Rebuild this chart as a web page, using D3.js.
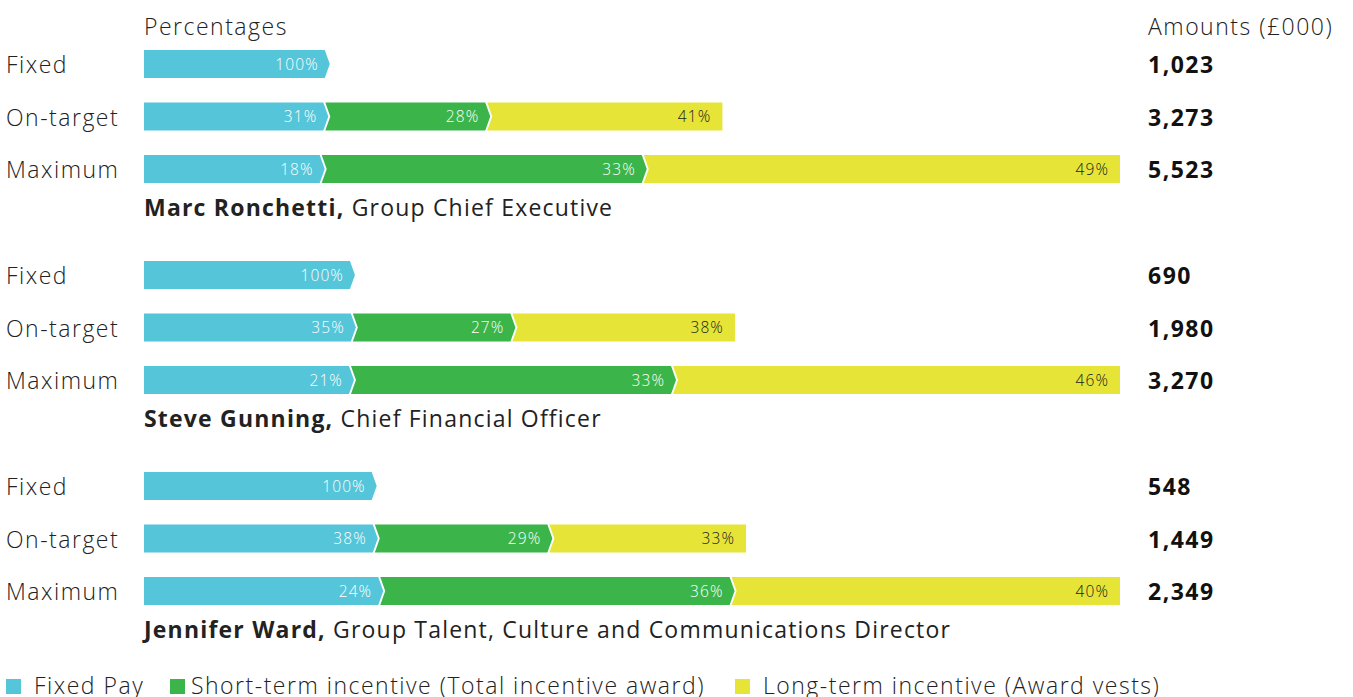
<!DOCTYPE html>
<html>
<head>
<meta charset="utf-8">
<script src="https://cdn.jsdelivr.net/npm/d3@7"></script>
<style>
  body { margin: 0; background: #fff; }
  text { font-family: "Open Sans", Lato, sans-serif; }
</style>
</head>
<body>
<svg id="chart" width="1353" height="697"></svg>
<script>
'use strict';

// data
let executives = ['Marc Ronchetti,', 'Steve Gunning,', 'Jennifer Ward,'];
let roles = ['Group Chief Executive', 'Chief Financial Officer', 'Group Talent, Culture and Communications Director'];
let scenarios = ['Fixed', 'On-target', 'Maximum'];
let amounts = [
  [1023, 3273, 5523],
  [690, 1980, 3270],
  [548, 1449, 2349]
];
let shares = [
  [[100], [31, 28, 41], [18, 33, 49]],
  [[100], [35, 27, 38], [21, 33, 46]],
  [[100], [38, 29, 33], [24, 36, 40]]
];
let seriesNames = ['Fixed Pay', 'Short-term incentive (Total incentive award)', 'Long-term incentive (Award vests)'];
let colors = ['#55c5d9', '#3bb54a', '#e6e537'];
let labelColors = ['#ffffff', '#ffffff', '#222222'];

let svg = d3.select('#chart');
let barH = 28, tip = 5, gap = 2;
let fmt = d3.format(',');

function light(sel){
  return sel.attr('font-size', 23).attr('font-weight', 300).attr('letter-spacing', 1.5).attr('fill', '#222');
}

light(svg.append('text').attr('x', 144).attr('y', 35)).text('Percentages');
light(svg.append('text').attr('x', 1148).attr('y', 35)).text('Amounts (£000)');

executives.forEach(function(name, g){
  let top = 50 + g * 211;
  let x = d3.scaleLinear().domain([0, d3.max(amounts[g])]).range([144, 1120]);
  let y = d3.scaleBand().domain(scenarios).range([top, top + 52.5 * 3]).paddingInner(0);

  let grp = svg.append('g');

  scenarios.forEach(function(sc, r){
    let total = amounts[g][r];
    let parts = shares[g][r];
    let y0 = y(sc), y1 = y0 + barH, ym = y0 + barH / 2;
    let cum = 0;
    let segs = parts.map(function(p, k){
      let s = { k: k, p: p, a0: cum * total / 100 };
      cum += p;
      s.a1 = cum * total / 100;
      s.last = k === parts.length - 1;
      s.pointed = !(s.last && parts.length > 1);
      return s;
    });

    grp.selectAll(null).data(segs).enter().append('path')
      .attr('fill', function(d){ return colors[d.k]; })
      .attr('d', function(d){
        let L = x(d.a0) + (d.k > 0 ? gap : 0);
        let R = x(d.a1);
        let pts = [[L, y0], [R, y0]];
        if(d.pointed) pts.push([R + tip, ym]);
        pts.push([R, y1], [L, y1]);
        if(d.k > 0) pts.push([L + tip, ym]);
        return 'M' + pts.map(function(p){ return p.join(','); }).join('L') + 'Z';
      });

    grp.selectAll(null).data(segs).enter().append('text')
      .attr('x', function(d){ return x(d.a1) - (d.pointed ? 6 : 11); })
      .attr('y', ym + 5.5)
      .attr('text-anchor', 'end')
      .attr('font-size', 15.5)
      .attr('font-weight', 300)
      .attr('letter-spacing', 1.1)
      .attr('fill', function(d){ return labelColors[d.k]; })
      .text(function(d){ return d.p + '%'; });

    light(grp.append('text').attr('x', 6).attr('y', ym + 9)).text(sc);
    grp.append('text').attr('x', 1148).attr('y', ym + 9).attr('font-size', 23).attr('font-weight', 700)
      .attr('letter-spacing', 1.5).attr('fill', '#111').text(fmt(total));
  });

  let nameText = grp.append('text').attr('x', 144).attr('y', top + 166).attr('font-size', 23)
    .attr('letter-spacing', 1.2).attr('fill', '#222');
  nameText.append('tspan').attr('font-weight', 700).text(name);
  nameText.append('tspan').attr('font-weight', 400).text(' ' + roles[g]);
});

// legend
let swatchX = [6, 170, 735];
let labelX = [34, 191, 763];
let leg = svg.append('g').selectAll(null).data(seriesNames).enter().append('g');
leg.append('rect').attr('x', function(d, i){ return swatchX[i]; }).attr('y', 679).attr('width', 15).attr('height', 15)
  .attr('fill', function(d, i){ return colors[i]; });
light(leg.append('text').attr('x', function(d, i){ return labelX[i]; }).attr('y', 694))
  .text(function(d){ return d; });
</script>
</body>
</html>
